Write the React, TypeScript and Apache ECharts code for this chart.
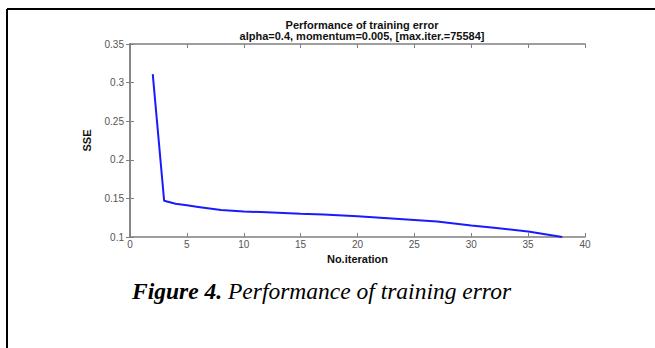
import React, { useEffect, useRef } from "react";
import * as echarts from "echarts";

const iterations = [2, 3, 4, 5, 6, 7, 8, 10, 12, 15, 17, 20, 22, 25, 27, 30, 32, 35, 38];
const sse = [0.311, 0.147, 0.143, 0.141, 0.139, 0.137, 0.135, 0.133, 0.132, 0.130, 0.129, 0.127, 0.125, 0.122, 0.120, 0.115, 0.112, 0.107, 0.100];
const titleLines = ["Performance of training error", "alpha=0.4, momentum=0.005, [max.iter.=75584]"];
const xTicks = [0, 5, 10, 15, 20, 25, 30, 35, 40];
const yTicks = [0.1, 0.15, 0.2, 0.25, 0.3, 0.35];

export default function App() {
  const ref = useRef<HTMLDivElement>(null);
  useEffect(() => {
    const chart = echarts.init(ref.current!, null, { renderer: "svg" });
    const axisColor = "#7f7f7f";
    const labelColor = "#555";
    const font = "Liberation Sans, Arial, sans-serif";
    chart.setOption({
      animation: false,
      backgroundColor: "#fff",
      title: {
        text: titleLines.join("\n"),
        left: 357,
        textAlign: "center",
        top: 14,
        textStyle: { fontSize: 11, fontWeight: "bold", color: "#111", fontFamily: font, lineHeight: 11 },
      },
      grid: { left: 130, right: 70, top: 44, bottom: 111 },
      xAxis: [
        {
          type: "value",
          min: xTicks[0],
          max: xTicks[xTicks.length - 1],
          interval: 5,
          name: "No.iteration",
          nameLocation: "middle",
          nameGap: 16,
          nameTextStyle: { fontSize: 11, fontWeight: "bold", color: "#111", fontFamily: font },
          axisLine: { lineStyle: { color: axisColor, width: 1.5 } },
          axisTick: { inside: true, length: 4, lineStyle: { color: axisColor } },
          axisLabel: { fontSize: 10, color: labelColor, fontFamily: font, margin: 2 },
          splitLine: { show: false },
        },
        {
          type: "value",
          position: "top",
          min: xTicks[0],
          max: xTicks[xTicks.length - 1],
          interval: 5,
          axisLine: { show: true, lineStyle: { color: axisColor, width: 1.5 } },
          axisTick: { inside: true, length: 4, lineStyle: { color: axisColor } },
          axisLabel: { show: false },
          splitLine: { show: false },
        },
      ],
      yAxis: [
        {
          type: "value",
          min: yTicks[0],
          max: yTicks[yTicks.length - 1],
          interval: 0.05,
          name: "SSE",
          nameLocation: "middle",
          nameGap: 38,
          nameTextStyle: { fontSize: 11, fontWeight: "bold", color: "#111", fontFamily: font },
          axisLine: { show: true, lineStyle: { color: axisColor, width: 1.5 } },
          axisTick: { show: true, inside: true, length: 4, lineStyle: { color: axisColor } },
          axisLabel: { fontSize: 10, color: labelColor, fontFamily: font, margin: 6 },
          splitLine: { show: false },
        },
        {
          type: "value",
          position: "right",
          min: yTicks[0],
          max: yTicks[yTicks.length - 1],
          interval: 0.05,
          axisLine: { show: true, lineStyle: { color: axisColor, width: 1.5 } },
          axisTick: { show: true, inside: true, length: 4, lineStyle: { color: axisColor } },
          axisLabel: { show: false },
          splitLine: { show: false },
        },
      ],
      series: [
        {
          type: "line",
          data: iterations.map((x, i) => [x, sse[i]]),
          showSymbol: false,
          lineStyle: { color: "#1a1aff", width: 2 },
          xAxisIndex: 0,
          yAxisIndex: 0,
        },
      ],
      graphic: [
        { type: "line", shape: { x1: 7, y1: 9, x2: 655, y2: 9 }, style: { stroke: "#000", lineWidth: 2 } },
        { type: "line", shape: { x1: 7, y1: 9, x2: 7, y2: 348 }, style: { stroke: "#000", lineWidth: 2 } },
        {
          type: "text",
          left: 132,
          top: 279,
          style: {
            text: "{b|Figure 4. }{i|Performance of training error}",
            rich: {
              b: { fontSize: 23.5, fontWeight: "bold", fontStyle: "italic", fontFamily: "Liberation Serif, serif", fill: "#000" },
              i: { fontSize: 23.5, fontStyle: "italic", fontFamily: "Liberation Serif, serif", fill: "#000" },
            },
          },
        },
      ],
    });
    return () => chart.dispose();
  }, []);
  return <div ref={ref} style={{ width: 655, height: 348, position: "absolute", left: 0, top: 0 }} />;
}
